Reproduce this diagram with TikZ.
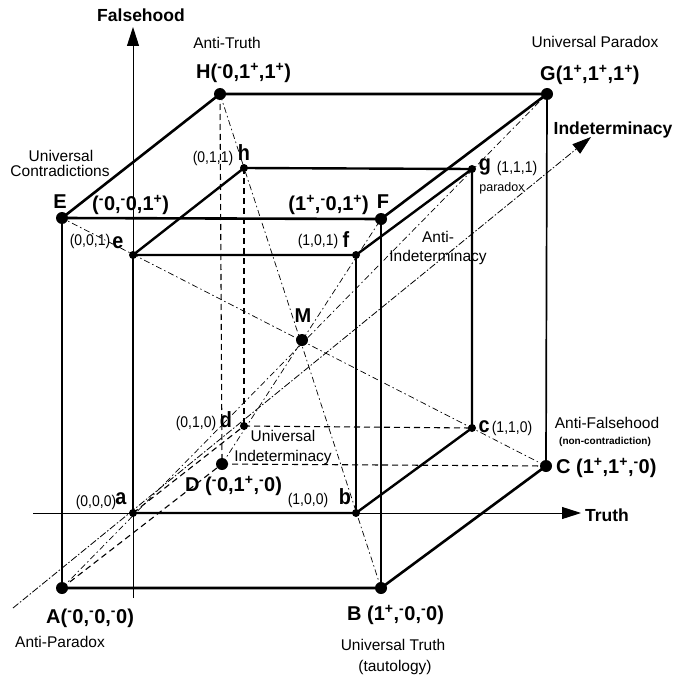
\documentclass[tikz,border=0pt]{standalone}
\usepackage{fontspec}
\setmainfont{Liberation Sans}
\newfontfamily\condfont[FakeStretch=0.9]{Liberation Sans}
\usetikzlibrary{arrows.meta}
\newcommand\upm[1]{\textsuperscript{#1}}
\begin{document}
\begin{tikzpicture}[x=1pt,y=-1pt,
  edgeT/.style={line width=2.6pt,line cap=round},
  edgeM/.style={line width=1.7pt,line cap=round},
  edgeI/.style={line width=2.4pt,line cap=round},
  hidden/.style={line width=1.1pt,dash pattern=on 6pt off 4pt},
  diag/.style={line width=0.7pt,dash pattern=on 6pt off 3pt on 1.5pt off 3pt},
  axisline/.style={line width=0.9pt},
  tipstyle/.style={-{Triangle[length=19pt,width=12pt]}},
  dotO/.style={circle,fill=black,inner sep=0pt,minimum size=12pt},
  dotI/.style={circle,fill=black,inner sep=0pt,minimum size=8pt},
  txt/.style={font=\fontsize{15.5}{17}\selectfont,inner sep=0pt},
  axlbl/.style={font=\fontsize{17.5}{19}\selectfont\bfseries,inner sep=0pt},
  vtx/.style={font=\fontsize{20}{22}\selectfont\bfseries,inner sep=0pt},
  crd/.style={font=\condfont\fontsize{15.5}{17}\selectfont,inner sep=0pt},
  ltr/.style={font=\condfont\fontsize{22}{24}\selectfont\bfseries,inner sep=0pt},
  tinylbl/.style={font=\fontsize{12.5}{14}\selectfont,inner sep=0pt},
  tinyb/.style={font=\fontsize{10}{12}\selectfont\bfseries,inner sep=0pt}
]
\useasboundingbox (0,0) rectangle (680,682);
% outer cube
\coordinate (A) at (62,588);
\coordinate (B) at (381,588);
\coordinate (C) at (546,466);
\coordinate (D) at (222,464);
\coordinate (E) at (62,218);
\coordinate (F) at (381,219);
\coordinate (G) at (547,94);
\coordinate (H) at (220,94);
% inner cube
\coordinate (a) at (133,513);
\coordinate (b) at (356,513);
\coordinate (c) at (472,428);
\coordinate (d) at (244,426);
\coordinate (e) at (133,255);
\coordinate (f) at (356,255);
\coordinate (g) at (472,169);
\coordinate (h) at (244,168);
\coordinate (M) at (302,340);
% axes ends
\coordinate (Fbot) at (133,598);
\coordinate (Ftop) at (133,27);
\coordinate (Tl) at (33,513);
\coordinate (Tr) at (581,513);
\coordinate (Il) at (13,608);
\coordinate (Ir) at (591,137);

% axes
\draw[axisline,tipstyle] (Fbot) -- (Ftop);
\draw[axisline,tipstyle] (Tl) -- (Tr);
\draw[line width=0.8pt,dash pattern=on 7pt off 2pt on 1.5pt off 2pt,tipstyle] (Il) -- (Ir);

% space diagonals
\draw[diag] (A) -- (G);
\draw[diag] (B) -- (H);
\draw[diag] (C) -- (E);
\draw[diag] (D) -- (F);

% hidden edges
\draw[hidden] (H) -- (D);
\draw[hidden] (D) -- (C);
\draw[hidden] (A) -- (D);
\draw[hidden] (h) -- (d);
\draw[hidden] (d) -- (c);
\draw[hidden] (a) -- (d);

% outer visible edges
\draw[edgeT] (E) -- (H) -- (G) -- (F);
\draw[edgeT] (E) -- (F);
\draw[edgeT] (A) -- (B) -- (C);
\draw[edgeM] (A) -- (E);
\draw[edgeM] (F) -- (B);
\draw[edgeM] (G) -- (C);

% inner visible edges
\draw[edgeI] (e) -- (h) -- (g) -- (f) -- (e);
\draw[edgeI] (a) -- (b) -- (c) -- (g);
\draw[edgeI] (a) -- (e);
\draw[edgeI] (f) -- (b);

% dots
\foreach \p in {A,B,C,D,E,F,G,H,M} \node[dotO] (\p dot) at (\p) {};
\foreach \p in {a,b,c,d,e,f,g,h} \node[dotI] (\p dot) at (\p) {};

% axis labels
\node[axlbl] (lFalse) at (141,15) {Falsehood};
\node[axlbl] (lInd) at (613,130) {Indeterminacy};
\node[axlbl] (lTruth) at (607,515) {Truth};

% outer labels
\node[txt] (lAT) at (227,43) {Anti-Truth};
\node[vtx,anchor=west] (lH) at (196,73) {H(\upm{-}0,1\upm{+},1\upm{+})};
\node[txt] (lUP) at (595,42) {Universal Paradox};
\node[vtx,anchor=west] (lG) at (540,75) {G(1\upm{+},1\upm{+},1\upm{+})};
\node[txt] (lUC1) at (61,156) {Universal};
\node[txt] (lUC2) at (60,171) {Contradictions};
\node[vtx] (lE) at (60,202) {E};
\node[vtx,anchor=west] (lEc) at (92,205) {(\upm{-}0,\upm{-}0,1\upm{+})};
\node[vtx,anchor=east] (lFc) at (369,205) {(1\upm{+},\upm{-}0,1\upm{+})};
\node[vtx] (lF) at (383,202) {F};
\node[txt] (lAF) at (607,423) {Anti-Falsehood};
\node[tinyb] (lnc) at (605,442) {(non-contradiction)};
\node[vtx,anchor=west] (lC) at (556,468) {C (1\upm{+},1\upm{+},\upm{-}0)};
\node[vtx,anchor=west] (lD) at (185,486) {D (\upm{-}0,1\upm{+},\upm{-}0)};
\node[vtx,anchor=west] (lA) at (46,618) {A(\upm{-}0,\upm{-}0,\upm{-}0)};
\node[txt] (lAP) at (60,642) {Anti-Paradox};
\node[vtx,anchor=west] (lB) at (347,615) {B (1\upm{+},\upm{-}0,\upm{-}0)};
\node[txt] (lUT) at (393,645) {Universal Truth};
\node[txt] (ltaut) at (395,667) {(tautology)};

% inner labels
\node[crd] (ch) at (213,158) {(0,1,1)};
\node[ltr] (lh) at (244,153) {h};
\node[crd] (ce) at (90,241) {(0,0,1)};
\node[ltr] (le) at (118,243) {e};
\node[crd] (cf) at (318,241) {(1,0,1)};
\node[ltr] (lf) at (346,240) {f};
\node[ltr] (lg) at (485,167) {g};
\node[crd] (cg) at (517,168) {(1,1,1)};
\node[tinylbl] (lpar) at (502,188) {paradox};
\node[txt] (lAI1) at (438,237) {Anti-};
\node[txt] (lAI2) at (438,257) {Indeterminacy};
\node[axlbl,font=\fontsize{20}{22}\selectfont\bfseries] (lM) at (303,316) {M};
\node[crd] (cd) at (196,423) {(0,1,0)};
\node[ltr] (ld) at (226,420) {d};
\node[txt] (lUI1) at (283,436) {Universal};
\node[txt] (lUI2) at (283,457) {Indeterminacy};
\node[ltr] (lc) at (484,427) {c};
\node[crd] (cc) at (512,428) {(1,1,0)};
\node[crd] (cb) at (308,500) {(1,0,0)};
\node[ltr] (lb) at (345,497) {b};
\node[crd] (ca) at (96,502) {(0,0,0)};
\node[ltr] (la) at (121,499) {a};
\end{tikzpicture}
\end{document}
